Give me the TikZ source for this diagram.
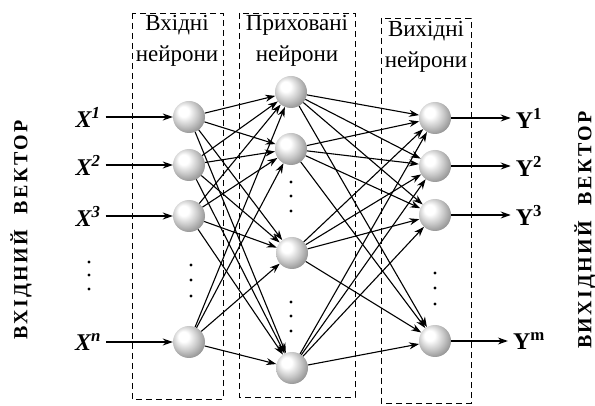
\documentclass[tikz,border=0pt]{standalone}
\usepackage{fontspec}
\setmainfont{Liberation Serif}
\newfontfamily\sidefont[LetterSpace=12]{Liberation Serif}
\usetikzlibrary{arrows.meta}
\pgfdeclareradialshading{neuronball}{\pgfpoint{-10bp}{10bp}}{color(0bp)=(white); color(8bp)=(white); color(20bp)=(black!22); color(30bp)=(black!42); color(50bp)=(black!60)}

\begin{document}
\begin{tikzpicture}[x=1pt, y=-1pt,
            neuron/.style={circle, minimum size=32pt, inner sep=0pt, shading=neuronball},
            layer/.style={draw, line width=0.9pt, dash pattern=on 6pt off 4pt},
            head/.style={align=center, font=\fontsize{23}{31}\selectfont},
            xlab/.style={font=\fontsize{24}{24}\selectfont\bfseries\itshape, inner sep=5pt},
            ylab/.style={font=\fontsize{24}{24}\selectfont\bfseries, inner sep=5pt},
            side/.style={rotate=90, font=\sidefont\bfseries\fontsize{20}{20}\selectfont},
            conn/.style={-{Stealth[length=10pt,width=7pt]}, line width=1.1pt}]
            \useasboundingbox (0,0) rectangle (595,406);

            \draw[layer] (132,13) rectangle (223,399);
            \draw[layer] (239,13) rectangle (355,397);
            \draw[layer] (381,18) rectangle (471,403);
            \node[head](hin) at (177,41) {Вхідні\\нейрони};
            \node[head](hhid) at (297,41) {Приховані\\нейрони};
            \node[head](hout) at (426,47) {Вихідні\\нейрони};

            \node[neuron](i1) at (189,117) {};
            \node[neuron](i2) at (189,165) {};
            \node[neuron](i3) at (189,216) {};
            \node[neuron](i4) at (189,342) {};
            \node[neuron](h1) at (291,92) {};
            \node[neuron](h2) at (291,149) {};
            \node[neuron](h3) at (292,253) {};
            \node[neuron](h4) at (292,368) {};
            \node[neuron](o1) at (435,118) {};
            \node[neuron](o2) at (435,166) {};
            \node[neuron](o3) at (435,215) {};
            \node[neuron](o4) at (435,341) {};

            \node[xlab](x1) at (88,117) {X\textsuperscript{1}};
            \node[xlab](x2) at (88,165) {X\textsuperscript{2}};
            \node[xlab](x3) at (88,216) {X\textsuperscript{3}};
            \node[xlab](x4) at (88,342) {X\textsuperscript{n}};
            \node[ylab](y1) at (529,118) {Y\textsuperscript{1}};
            \node[ylab](y2) at (529,166) {Y\textsuperscript{2}};
            \node[ylab](y3) at (529,215) {Y\textsuperscript{3}};
            \node[ylab](y4) at (529,341) {Y\textsuperscript{m}};

            \node[side](vin) at (21,230) {ВХІДНИЙ\hspace{8pt} ВЕКТОР};
            \node[side](vout) at (585,230) {ВИХІДНИЙ\hspace{8pt} ВЕКТОР};

            \foreach \y in {262,275,289} \fill (89,\y) circle (1.7);
            \foreach \y in {265,280,296} \fill (191,\y) circle (1.7);
            \foreach \y in {182,196,211,302,316,331} \fill (291,\y) circle (1.7);
            \foreach \y in {273,288,304} \fill (435,\y) circle (1.7);

            \begin{scope}[conn]
                \foreach \k in {1,2,3,4} {
                    \draw(x\k)--(i\k);
                    \draw(o\k)--(y\k);
                    \foreach \j in {1,2,3,4} {
                        \draw(i\k)--(h\j);
                        \draw(h\k)--(o\j);
                    }
                }
            \end{scope}
        \end{tikzpicture}
\end{document}
